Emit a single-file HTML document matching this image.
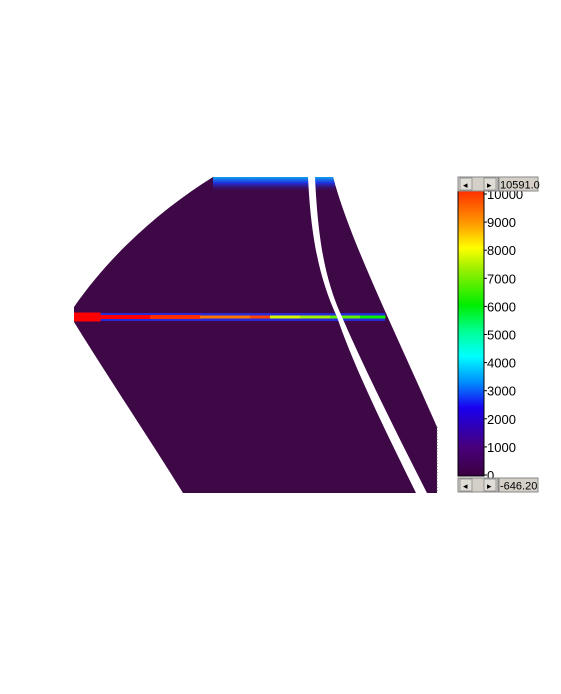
<!DOCTYPE html>
<html><head><meta charset="utf-8">
<style>
body{margin:0;background:#fff;width:561px;height:694px;overflow:hidden;font-family:"Liberation Sans",sans-serif}
svg{display:block}
</style></head>
<body>
<svg id="chart" width="561" height="694">
  <defs>
    <linearGradient id="cmap" x1="0" y1="1" x2="0" y2="0">
      <stop offset="0" stop-color="#3a0040"/>
      <stop offset="0.1" stop-color="#48007a"/>
      <stop offset="0.24" stop-color="#1a00f0"/>
      <stop offset="0.33" stop-color="#0090ff"/>
      <stop offset="0.42" stop-color="#00ffff"/>
      <stop offset="0.51" stop-color="#00ff90"/>
      <stop offset="0.6" stop-color="#00ee00"/>
      <stop offset="0.73" stop-color="#a0f000"/>
      <stop offset="0.8" stop-color="#ffff00"/>
      <stop offset="0.88" stop-color="#ffa000"/>
      <stop offset="1" stop-color="#ff3000"/>
    </linearGradient>
    <linearGradient id="topglow" x1="0" y1="0" x2="0" y2="1">
      <stop offset="0" stop-color="#10a0f0"/>
      <stop offset="0.4" stop-color="#2030e0"/>
      <stop offset="1" stop-color="#3c0a50" stop-opacity="0"/>
    </linearGradient>
    <clipPath id="shapeclip"><path d="M213,177 L333,177 C350,240 390,320 437,427 L437,493 L183,493 C150,440 110,380 74,322 L74,307 C110,255 160,210 213,177 Z"/></clipPath>
  </defs>
  <g id="image" clip-path="url(#shapeclip)">
    <rect x="60" y="170" width="390" height="330" fill="#3e0846"/>
    <rect x="213" y="177" width="122" height="15" fill="url(#topglow)"/>
    <g id="band"></g>
    <path d="M308,177 L315,177 C318,240 325,280 342,317 C365,370 400,440 427,493 L416,493 C390,440 355,370 337,317 C320,280 311,240 308,177 Z" fill="#fff"/>
  </g>
  <line x1="437" y1="427" x2="437" y2="493" stroke="#555" stroke-dasharray="1,2"/>

  <g>
    <rect x="458" y="191" width="26" height="285" fill="url(#cmap)" stroke="#000"/>
    <g id="ticks"></g>
    <rect x="486" y="176" width="60" height="14" fill="#fff"/>
    <g>
      <rect x="458" y="177" width="40" height="14" fill="#d4d0c8" stroke="#888"/>
      <rect x="460" y="178" width="12" height="12" fill="#e0ddd6" stroke="#999"/>
      <text x="463" y="188" font-size="9">◂</text>
      <rect x="484" y="178" width="12" height="12" fill="#e0ddd6" stroke="#999"/>
      <text x="487" y="188" font-size="9">▸</text>
      <rect x="499" y="177" width="39" height="14" fill="#d4d0c8" stroke="#888"/>
      <text x="500" y="188.5" font-size="11">10591.0</text>
    </g>
    <g>
      <rect x="458" y="478" width="40" height="14" fill="#d4d0c8" stroke="#888"/>
      <rect x="460" y="479" width="12" height="12" fill="#e0ddd6" stroke="#999"/>
      <text x="463" y="489" font-size="9">◂</text>
      <rect x="484" y="479" width="12" height="12" fill="#e0ddd6" stroke="#999"/>
      <text x="487" y="489" font-size="9">▸</text>
      <rect x="499" y="478" width="39" height="14" fill="#d4d0c8" stroke="#888"/>
      <text x="500" y="489.5" font-size="11">-646.20</text>
    </g>
  </g>
</svg>
<script>
const tickValues = [0,1000,2000,3000,4000,5000,6000,7000,8000,9000,10000];
const bandX = [74, 100, 150, 200, 250, 270, 300, 330, 360, 385];
const bandIntensity = [10591, 10591, 10200, 9600, 10000, 8000, 7600, 7000, 6200, 5800];
const cmin = -646.2, cmax = 10591.0;
const tickZeroY = 475, tickPer1000 = 28.1;
const yScale = v => tickZeroY - v / 1000 * tickPer1000;
const stops = [[0,[58,0,64]],[0.1,[72,0,122]],[0.24,[26,0,240]],[0.33,[0,144,255]],[0.42,[0,255,255]],[0.51,[0,255,144]],[0.6,[0,238,0]],[0.73,[160,240,0]],[0.8,[255,255,0]],[0.88,[255,160,0]],[1,[255,0,0]]];
function color(v){
  let t=(v-cmin)/(cmax-cmin); t=Math.max(0,Math.min(1,t));
  for(let i=1;i<stops.length;i++){ if(t<=stops[i][0]){const a=stops[i-1],b=stops[i];const f=(t-a[0])/(b[0]-a[0]);
    const c=a[1].map((x,k)=>Math.round(x+(b[1][k]-x)*f));return `rgb(${c})`;}}
  return 'rgb(255,0,0)';
}
const NS='http://www.w3.org/2000/svg';
const tg=document.getElementById('ticks');
tickValues.forEach(v=>{
  const y=yScale(v);
  const l=document.createElementNS(NS,'line');
  l.setAttribute('x1',484);l.setAttribute('x2',487);l.setAttribute('y1',y);l.setAttribute('y2',y);l.setAttribute('stroke','#000');
  
  
  tg.appendChild(l);
  const t=document.createElementNS(NS,'text');
  t.setAttribute('x',487);t.setAttribute('y',y+5);t.setAttribute('font-size','13');
  t.textContent=v;
  
  
  tg.appendChild(t);
});
const bg=document.getElementById('band');
const cy=317;
const halo=document.createElementNS(NS,'rect');
halo.setAttribute('x',74);halo.setAttribute('y',cy-4);halo.setAttribute('width',311);halo.setAttribute('height',8);halo.setAttribute('fill','#2828d8');


bg.appendChild(halo);
for(let i=0;i<bandX.length-1;i++){
  const x0=bandX[i],x1=bandX[i+1];
  const r=document.createElementNS(NS,'rect');
  const h=i===0?9:(i<3?4:3);
  r.setAttribute('x',x0);r.setAttribute('y',cy-h/2);r.setAttribute('width',x1-x0+0.5);r.setAttribute('height',h);
  r.setAttribute('fill',color(bandIntensity[i]));
  
  
  bg.appendChild(r);
}
</script>
</body></html>
